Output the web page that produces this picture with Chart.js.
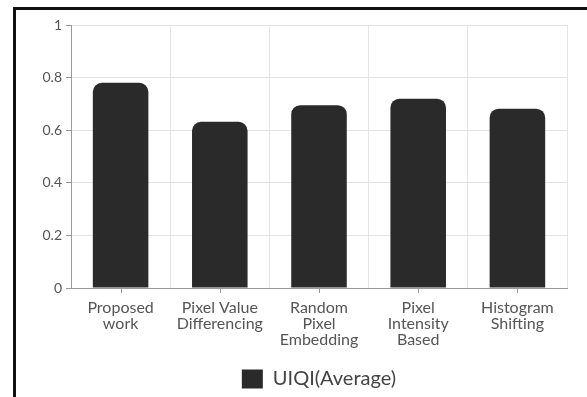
<!DOCTYPE html>
<html>
<head>
<meta charset="utf-8">
<script src="https://cdn.jsdelivr.net/npm/chart.js@4/dist/chart.umd.min.js"></script>
<style>
  html, body { margin: 0; padding: 0; background: #fff; }
  #wrap { position: relative; width: 587px; height: 397px; overflow: hidden; }
  #frame {
    position: absolute; left: 13px; top: 7px; width: 600px; height: 420px;
    border-left: 3px solid #111; border-top: 3px solid #111;
    pointer-events: none;
  }
  canvas { position: absolute; left: 0; top: 0; }
</style>
</head>
<body>
<div id="wrap">
  <canvas id="uiqiChart" width="587" height="397"></canvas>
  <div id="frame"></div>
</div>
<script>
const categories = [
    ["Proposed", "work"],
    ["Pixel Value", "Differencing"],
    ["Random", "Pixel", "Embedding"],
    ["Pixel", "Intensity", "Based"],
    ["Histogram", "Shifting"]
];
const uiqiAverage = [0.78, 0.632, 0.695, 0.72, 0.682];
const yTicks = [0, 0.2, 0.4, 0.6, 0.8, 1];

// short tick marks under each category centre
const centreTicks = {
    id: "centreTicks",
    afterDatasetsDraw(chart) {
        const x = chart.scales.x;
        const ctx = chart.ctx;
        ctx.save();
        ctx.strokeStyle = "#9a9a9a";
        ctx.lineWidth = 1;
        for (let i = 0; i < categories.length; i++) {
            const px = Math.round(x.getPixelForValue(i)) + 0.5;
            ctx.beginPath();
            ctx.moveTo(px, x.top);
            ctx.lineTo(px, x.top + 5);
            ctx.stroke();
        }
        ctx.restore();
    }
};

new Chart(document.getElementById("uiqiChart"), {
    type: "bar",
    data: {
        labels: categories,
        datasets: [{
            label: "UIQI(Average)",
            data: uiqiAverage,
            backgroundColor: "#2a2a2a",
            borderColor: "#2a2a2a",
            borderWidth: 0,
            borderRadius: 9,
            barPercentage: 0.7,
            categoryPercentage: 0.8
        }]
    },
    options: {
        responsive: false,
        animation: false,
        layout: {
            padding: { top: 25, left: 20, right: 20, bottom: -2 }
        },
        plugins: {
            tooltip: { enabled: false },
            legend: {
                position: "bottom",
                fullSize: false,
                labels: {
                    boxWidth: 21,
                    boxHeight: 19,
                    color: "#444",
                    padding: 5,
                    font: { family: "Lato", size: 20 }
                }
            }
        },
        scales: {
            y: {
                min: 0,
                max: 1,
                afterBuildTicks(scale) {
                    scale.ticks = yTicks.map(v => ({ value: v }));
                },
                afterFit(scale) {
                    scale.width = 51;
                },
                grid: {
                    color: "#e4e4e4",
                    tickColor: "#9a9a9a",
                    tickLength: 5
                },
                border: { color: "#9a9a9a" },
                ticks: {
                    color: "#555",
                    padding: 4,
                    font: { family: "Lato", size: 14 },
                    callback: v => String(v)
                }
            },
            x: {
                afterFit(scale) {
                    scale.height = 76;
                },
                grid: {
                    color: "#e4e4e4",
                    drawTicks: false
                },
                border: { color: "#9a9a9a" },
                ticks: {
                    color: "#555",
                    padding: 12,
                    maxRotation: 0,
                    font: { family: "Lato", size: 16, lineHeight: 1.0 }
                }
            }
        }
    },
    plugins: [centreTicks]
});
</script>
</body>
</html>
